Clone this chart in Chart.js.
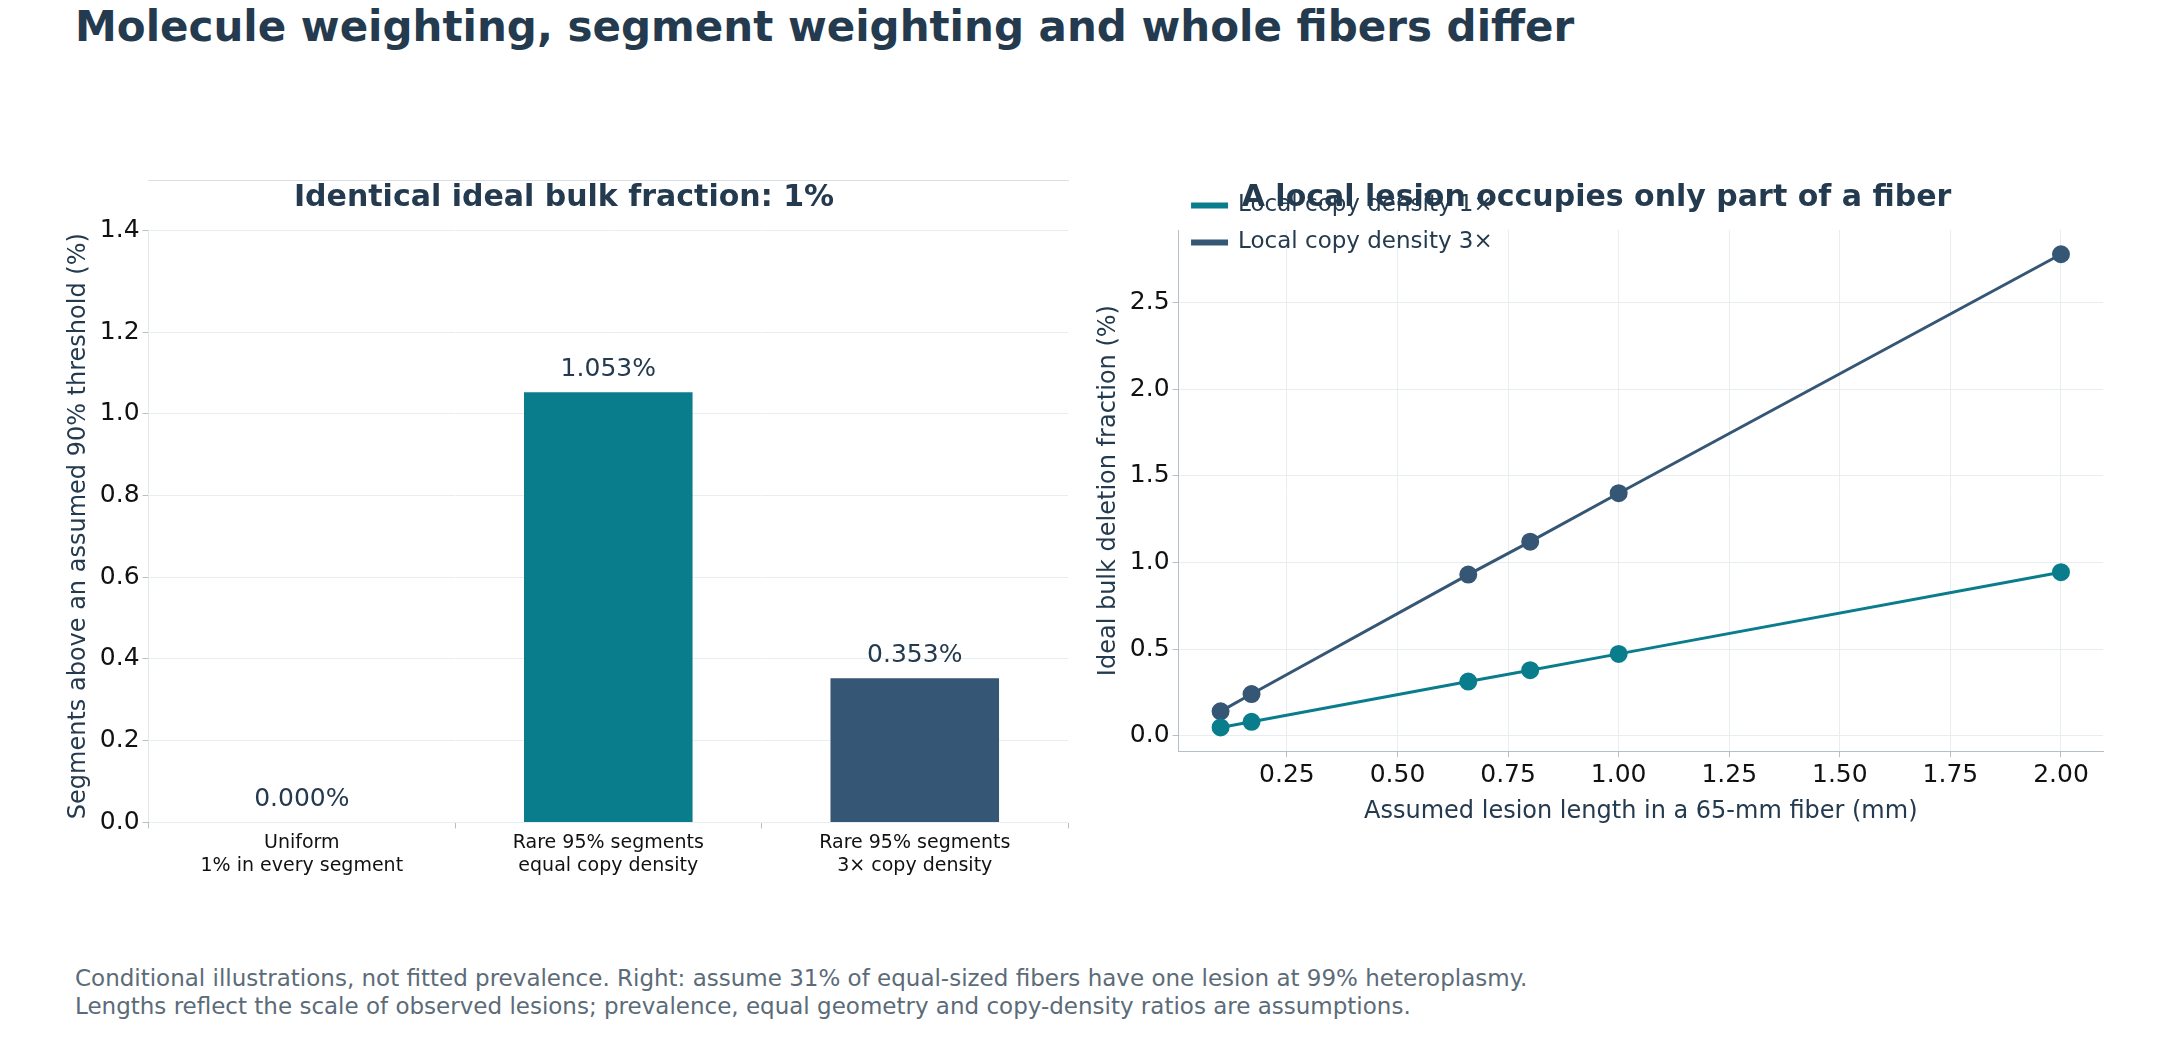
<!DOCTYPE html>
<html><head><meta charset="utf-8">
<script src="https://cdn.jsdelivr.net/npm/chart.js@4/dist/chart.umd.min.js"></script>
<style>
body{margin:0;width:2159px;height:1037px;background:#fff;font-family:"DejaVu Sans",sans-serif;position:relative;overflow:hidden}
#title{position:absolute;left:75px;top:2px;font-size:42px;font-weight:bold;color:#243a4e}
.box{position:absolute}
#note{position:absolute;left:75px;top:964px;font-size:23px;color:#5b6b78;line-height:28px}
</style></head><body>
<div id="title">Molecule weighting, segment weighting and whole fibers differ</div>
<canvas id="barChart" class="box" width="1030" height="700" style="left:60px;top:180px"></canvas>
<canvas id="lineChart" class="box" width="1030" height="700" style="left:1090px;top:180px"></canvas>
<div id="note">Conditional illustrations, not fitted prevalence. Right: assume 31% of equal-sized fibers have one lesion at 99% heteroplasmy.<br>Lengths reflect the scale of observed lesions; prevalence, equal geometry and copy-density ratios are assumptions.</div>
<script>
const barLabels = [['Uniform','1% in every segment'],['Rare 95% segments','equal copy density'],['Rare 95% segments','3× copy density']];
const barValues = [0.0, 1.053, 0.353];
const barColors = ['#0a7d8c', '#0a7d8c', '#355675'];
const lesionLengths = [0.1, 0.17, 0.66, 0.8, 1.0, 2.0];
const density1x = [0.047, 0.080, 0.312, 0.378, 0.472, 0.944];
const density3x = [0.14, 0.24, 0.93, 1.12, 1.40, 2.78];

Chart.defaults.font.family = '"DejaVu Sans", sans-serif';
Chart.defaults.color = '#111';
const dark = '#243a4e';
const gridCol = '#e8eef0';
const axisCol = '#b4c0c8';

const barText = {
  id: 'barText',
  afterDatasetsDraw(chart) {
    const ctx = chart.ctx;
    const meta = chart.getDatasetMeta(0);
    ctx.save();
    ctx.font = '25px "DejaVu Sans"';
    ctx.fillStyle = dark;
    ctx.textAlign = 'center';
    ctx.textBaseline = 'bottom';
    meta.data.forEach((b, i) => ctx.fillText(barValues[i].toFixed(3) + '%', b.x, b.y - 10));
    ctx.restore();
  }
};

new Chart(document.getElementById('barChart'), {
  type: 'bar',
  data: { labels: barLabels, datasets: [{ data: barValues, backgroundColor: barColors, categoryPercentage: 1, barPercentage: 0.55 }] },
  options: {
    responsive: false, animation: false, devicePixelRatio: 1,
    layout: { padding: { right: 22 } },
    plugins: {
      legend: { display: false },
      title: { display: true, text: 'Identical ideal bulk fraction: 1%', color: dark, font: { size: 30, weight: 'bold' }, padding: { top: 0, bottom: 14 } }
    },
    scales: {
      x: {
        grid: { color: 'rgba(255,255,255,0.6)', z: 1, tickColor: axisCol, tickLength: 6 },
        border: { color: axisCol },
        ticks: { font: { size: 19 }, color: '#111', maxRotation: 0 }
      },
      y: {
        min: 0, max: 1.45,
        grid: { color: gridCol, tickColor: axisCol, tickLength: 6 },
        border: { color: axisCol },
        ticks: { stepSize: 0.2, font: { size: 25 }, color: '#111', callback: v => v.toFixed(1) },
        title: { display: true, text: 'Segments above an assumed 90% threshold (%)', color: dark, font: { size: 24 } }
      }
    }
  },
  plugins: [barText]
});

new Chart(document.getElementById('lineChart'), {
  type: 'line',
  data: {
    datasets: [
      { label: 'Local copy density 1×', data: lesionLengths.map((x, i) => ({ x, y: density1x[i] })), borderColor: '#0a7d8c', backgroundColor: '#0a7d8c', borderWidth: 3, pointRadius: 7.5 },
      { label: 'Local copy density 3×', data: lesionLengths.map((x, i) => ({ x, y: density3x[i] })), borderColor: '#355675', backgroundColor: '#355675', borderWidth: 3, pointRadius: 7.5 }
    ]
  },
  options: {
    responsive: false, animation: false, devicePixelRatio: 1,
    layout: { padding: { right: 17, bottom: 50 } },
    plugins: {
      legend: { position: 'chartArea', align: 'start', labels: { boxWidth: 34, boxHeight: 3, color: dark, font: { size: 23 }, padding: 14 } },
      title: { display: true, text: 'A local lesion occupies only part of a fiber', color: dark, font: { size: 30, weight: 'bold' }, padding: { top: 0, bottom: 14 } }
    },
    scales: {
      x: {
        type: 'linear', min: 0.005, max: 2.095,
        afterBuildTicks: a => { a.ticks = [0.25,0.5,0.75,1,1.25,1.5,1.75,2].map(v => ({ value: v })); },
        grid: { color: gridCol, tickColor: axisCol, tickLength: 6 },
        border: { color: axisCol },
        ticks: { font: { size: 25 }, color: '#111', maxRotation: 0, callback: v => v.toFixed(2) },
        title: { display: true, text: 'Assumed lesion length in a 65-mm fiber (mm)', color: dark, font: { size: 24 } }
      },
      y: {
        min: -0.09, max: 2.92,
        afterBuildTicks: a => { a.ticks = [0,0.5,1,1.5,2,2.5].map(v => ({ value: v })); },
        grid: { color: gridCol, tickColor: axisCol, tickLength: 6 },
        border: { color: axisCol },
        ticks: { font: { size: 25 }, color: '#111', callback: v => v.toFixed(1) },
        title: { display: true, text: 'Ideal bulk deletion fraction (%)', color: dark, font: { size: 24 } }
      }
    }
  }
});
</script>
</body></html>
